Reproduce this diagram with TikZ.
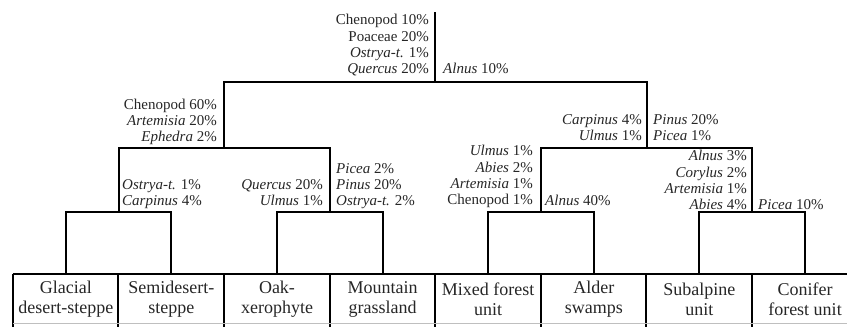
\documentclass[tikz,border=0pt]{standalone}
\usepackage{fontspec}
\setmainfont{Liberation Serif}
\begin{document}
\begin{tikzpicture}[x=1pt,y=-1pt,
  tree/.style={line width=2pt,black},
  grid/.style={line width=2pt,black},
  lab/.style={inner sep=0pt,text depth=0pt,font=\fontsize{15}{16.3}\selectfont,text=black!85},
  labr/.style={lab,align=right,anchor=south east},
  labl/.style={lab,align=left,anchor=south west},
  leaf/.style={minimum width=105.6pt,minimum height=50pt,inner sep=0pt,align=center,
    font=\fontsize{18}{20}\selectfont,text=black!85}]
\useasboundingbox (0,0) rectangle (847,327);
% leaf boxes
\node[leaf] (g1) at (65.8,299) {Glacial\\desert-steppe};
\node[leaf] (g2) at (171.4,299) {Semidesert-\\steppe};
\node[leaf] (g3) at (277,299) {Oak-\\xerophyte};
\node[leaf] (g4) at (382.6,299) {Mountain\\grassland};
\node[leaf] (g5) at (488.2,299) {Mixed forest\\unit};
\node[leaf] (g6) at (593.8,299) {Alder\\swamps};
\node[leaf] (g7) at (699.4,299) {Subalpine\\unit};
\node[leaf] (g8) at (805,299) {Conifer\\forest unit};
% grid of boxes
\draw[grid] (g1.north west) -- (g8.north east);
\foreach \n in {1,...,8}{\draw[grid] (g\n.north west) -- ([yshift=-4pt]g\n.south west);}
\draw[line width=1pt,black!25] ([yshift=1pt]g1.south west) -- ([yshift=1pt]g8.south east);
% junctions
\coordinate (n1) at (118.6,212);
\coordinate (n2) at (329.8,212);
\coordinate (n3) at (541,212);
\coordinate (n4) at (752.2,212);
\coordinate (m1) at (224,148);
\coordinate (m2) at (646.6,148);
\coordinate (r) at (435.4,82);
\coordinate (top) at (435.4,12);
% tree
\draw[tree] (g1.north) |- (n1) -| (g2.north);
\draw[tree] (g3.north) |- (n2) -| (g4.north);
\draw[tree] (g5.north) |- (n3) -| (g6.north);
\draw[tree] (g7.north) |- (n4) -| (g8.north);
\draw[tree] (n1) |- (m1) -| (n2);
\draw[tree] (n3) |- (m2) -| (n4);
\draw[tree] (m1) |- (r) -| (m2);
\draw[tree] (r) -- (top);
% labels
\node[labr] (a1) at (429,74) {Chenopod 10\%\\Poaceae 20\%\\\textit{Ostrya-t.} 1\%\\\textit{Quercus} 20\%};
\node[labl] (a2) at (443,74) {\textit{Alnus} 10\%};
\node[labr] (b1) at (217,142) {Chenopod 60\%\\\textit{Artemisia} 20\%\\\textit{Ephedra} 2\%};
\node[labr] (b2) at (642,141) {\textit{Carpinus} 4\%\\\textit{Ulmus} 1\%};
\node[labl] (b3) at (653,141) {\textit{Pinus} 20\%\\\textit{Picea} 1\%};
\node[labl] (c1) at (122,206) {\textit{Ostrya-t.} 1\%\\\textit{Carpinus} 4\%};
\node[labr] (c2) at (323,206) {\textit{Quercus} 20\%\\\textit{Ulmus} 1\%};
\node[labl] (c3) at (336,206) {\textit{Picea} 2\%\\\textit{Pinus} 20\%\\\textit{Ostrya-t.} 2\%};
\node[labr] (c4) at (533,205) {\textit{Ulmus} 1\%\\\textit{Abies} 2\%\\\textit{Artemisia} 1\%\\Chenopod 1\%};
\node[labl] (c5) at (545,206) {\textit{Alnus} 40\%};
\node[labr] (c6) at (747,210) {\textit{Alnus} 3\%\\\textit{Corylus} 2\%\\\textit{Artemisia} 1\%\\\textit{Abies} 4\%};
\node[labl] (c7) at (758,210) {\textit{Picea} 10\%};
\end{tikzpicture}
\end{document}
